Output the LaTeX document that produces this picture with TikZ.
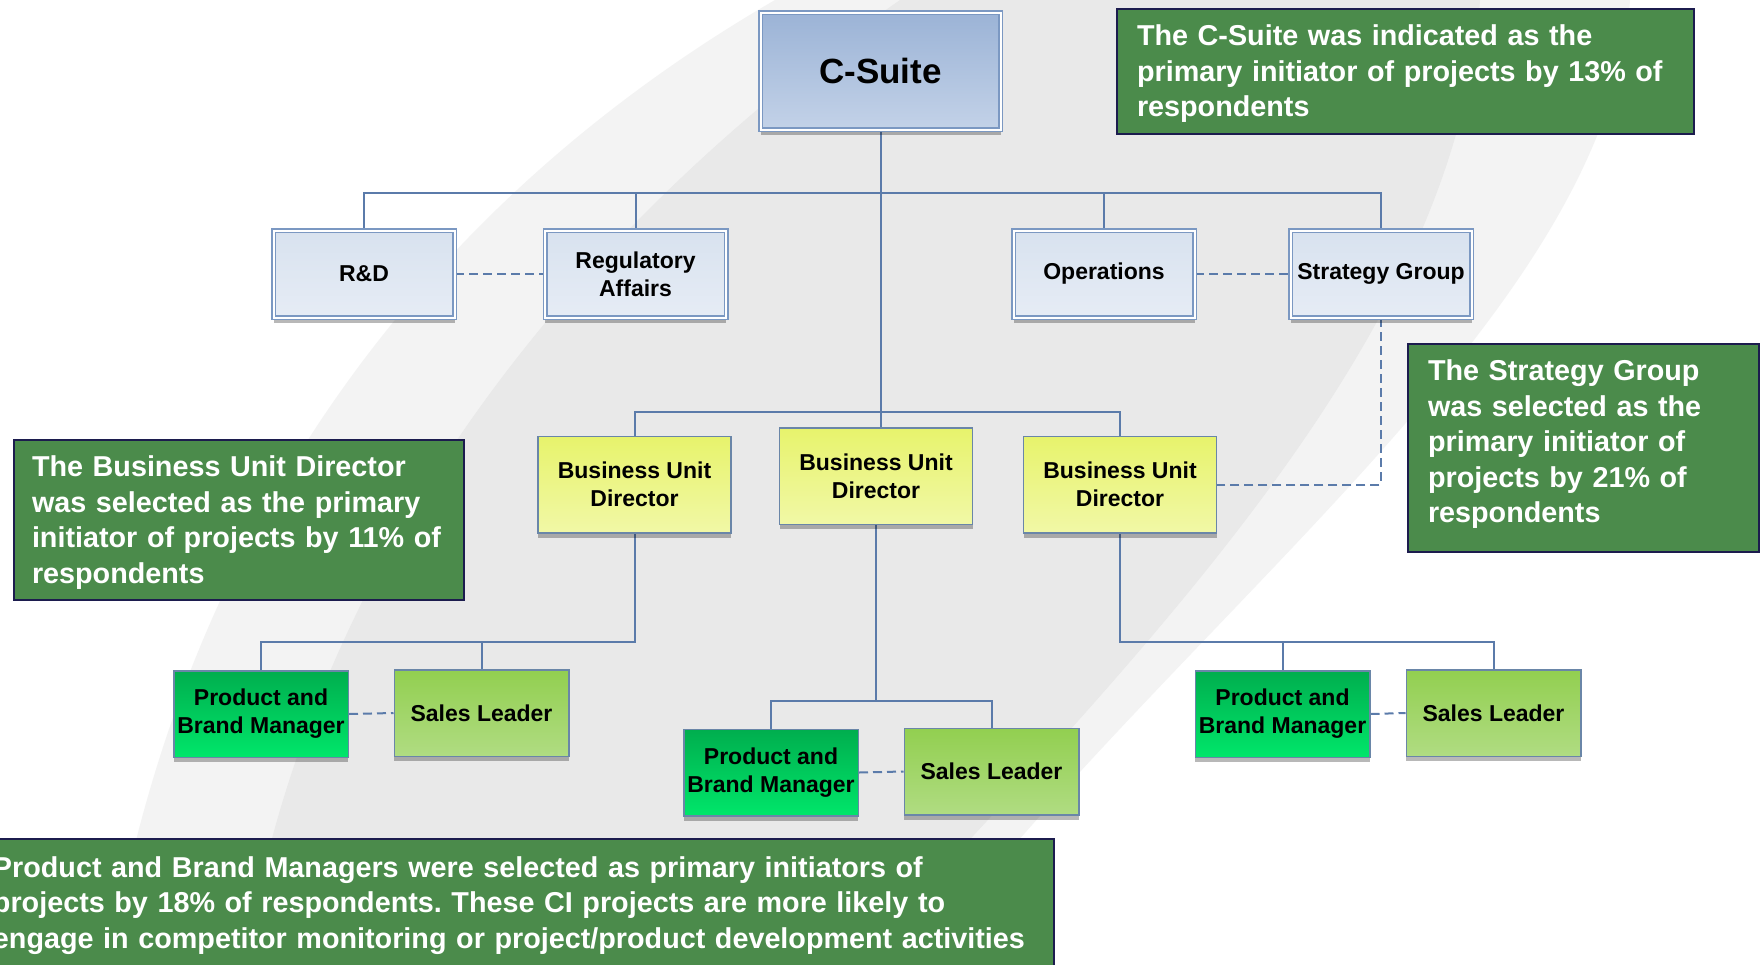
\documentclass[tikz,border=0pt]{standalone}
\usepackage{fontspec}
\setmainfont{Liberation Sans}
\usetikzlibrary{shadows}
\definecolor{lineblue}{HTML}{5B7BAA}
\definecolor{bbord}{HTML}{7B98C2}
\definecolor{bfillt}{HTML}{D8E2EF}
\definecolor{bfillb}{HTML}{E6ECF5}
\definecolor{cst}{HTML}{9BB3D6}
\definecolor{csb}{HTML}{C3D2E8}
\definecolor{ybord}{HTML}{6A86A8}
\definecolor{yt}{HTML}{E7F36C}
\definecolor{yb}{HTML}{F1F8A6}
\definecolor{gt}{HTML}{00AE4E}
\definecolor{gb}{HTML}{00E66A}
\definecolor{lt}{HTML}{92CF50}
\definecolor{lb}{HTML}{B0DC82}
\definecolor{notegreen}{HTML}{4B8B4B}
\definecolor{navy}{HTML}{1C1C4E}
\definecolor{swooshA}{HTML}{F3F3F3}
\definecolor{swooshB}{HTML}{E9E9E9}
\pgfdeclarelayer{bg}
\pgfdeclarelayer{conn}
\pgfsetlayers{bg,conn,main}
\frenchspacing
\begin{document}
\begin{tikzpicture}[x=1pt,y=-1pt,
  orgbase/.style={rectangle, inner sep=0pt, align=center, text=black,
    font=\fontsize{23}{28}\selectfont\bfseries,
    drop shadow={shadow xshift=0pt, shadow yshift=-5pt, fill=black, opacity=0.28}},
  bluebox/.style={orgbase, draw=bbord, double=white, double distance=2pt, line width=1.5pt,
    top color=bfillt, bottom color=bfillb, minimum width=181pt, minimum height=87pt},
  topbox/.style={orgbase, draw=bbord, double=white, double distance=2pt, line width=1.5pt,
    top color=cst, bottom color=csb, minimum width=240pt, minimum height=117pt,
    font=\fontsize{35}{42}\selectfont\bfseries},
  budbox/.style={orgbase, draw=ybord, line width=1.5pt, top color=yt, bottom color=yb,
    minimum width=193pt, minimum height=96.5pt},
  pbmbox/.style={orgbase, draw=ybord, line width=1.5pt, top color=gt, bottom color=gb,
    minimum width=174.5pt, minimum height=86.5pt},
  slbox/.style={orgbase, draw=ybord, line width=1.5pt, top color=lt, bottom color=lb,
    minimum width=174.5pt, minimum height=86.5pt},
  conn/.style={draw=lineblue, line width=2pt},
  dconn/.style={conn, dash pattern=on 9pt off 5pt},
  notebox/.style={rectangle, draw=navy, line width=2pt, fill=notegreen, text=white,
    font=\fontsize{28.75}{35.5}\selectfont\bfseries, align=left, inner ysep=0pt,
    inner xsep=20pt, anchor=north west}
]
\useasboundingbox (0,0) rectangle (1761,964);
\clip (0,0) rectangle (1761,964);

% background swoosh
\begin{pgfonlayer}{bg}
\fill[white] (0,0) rectangle (1761,964);
\fill[swooshA] (110,964) .. controls (185,520) and (430,200) .. (775,0) -- (1630,0)
  .. controls (1610,280) and (1280,540) .. (1010,850) -- (1010,964) -- cycle;
\fill[swooshB] (245,964) .. controls (310,560) and (570,230) .. (900,0) -- (1480,0)
  .. controls (1460,290) and (1230,560) .. (960,850) -- (960,964) -- cycle;
\end{pgfonlayer}

% org nodes
\node[topbox] (csuite) at (880.5,71) {C-Suite};
\node[bluebox] (rd) at (364,274) {R\&D};
\node[bluebox] (reg) at (635.5,274) {Regulatory\\Affairs};
\node[bluebox] (ops) at (1104,274) {Operations};
\node[bluebox] (sg) at (1381,274) {Strategy Group};

\node[budbox] (bud1) at (634.5,484.5) {Business Unit\\Director};
\node[budbox] (bud2) at (876,476) {Business Unit\\Director};
\node[budbox] (bud3) at (1120,484.5) {Business Unit\\Director};

\node[pbmbox] (pbm1) at (261,714) {Product and\\Brand Manager};
\node[slbox] (sl1) at (481.5,713) {Sales Leader};
\node[pbmbox] (pbm2) at (771,772.5) {Product and\\Brand Manager};
\node[slbox] (sl2) at (991.5,771.5) {Sales Leader};
\node[pbmbox] (pbm3) at (1282.5,714) {Product and\\Brand Manager};
\node[slbox] (sl3) at (1493.5,713) {Sales Leader};

% bus coordinates
\coordinate (tbus) at (0,193);
\coordinate (mbus) at (0,412);
\coordinate (lbus) at (0,642);
\coordinate (mlbus) at (0,701);

\begin{pgfonlayer}{conn}
\draw[conn] (csuite.south) -- (csuite.south |- bud2.north);
\draw[conn] (rd.north) -- (rd.north |- tbus) -- (sg.north |- tbus) -- (sg.north);
\draw[conn] (reg.north) -- (reg.north |- tbus);
\draw[conn] (ops.north) -- (ops.north |- tbus);
\draw[conn] (bud1.north) -- (bud1.north |- mbus) -- (bud3.north |- mbus) -- (bud3.north);
\draw[conn] (bud1.south) -- (bud1.south |- lbus) -- (pbm1.north |- lbus) -- (pbm1.north);
\draw[conn] (sl1.north) -- (sl1.north |- lbus);
\draw[conn] (bud2.south) -- (bud2.south |- mlbus);
\draw[conn] (pbm2.north) -- (pbm2.north |- mlbus) -- (sl2.north |- mlbus) -- (sl2.north);
\draw[conn] (bud3.south) -- (bud3.south |- lbus) -- (sl3.north |- lbus) -- (sl3.north);
\draw[conn] (pbm3.north) -- (pbm3.north |- lbus);
\draw[dconn] (rd.east) -- (reg.west);
\draw[dconn] (ops.east) -- (sg.west);
\draw[dconn] (sg.south) |- (bud3.east);
\draw[dconn] (pbm1.east) -- (sl1.west);
\draw[dconn] (pbm2.east) -- (sl2.west);
\draw[dconn] (pbm3.east) -- (sl3.west);
\end{pgfonlayer}

% notes
\node[notebox, minimum width=577pt, minimum height=125pt, text width=537pt] (note1) at (1116,8)
  {\mbox{The C-Suite was indicated as the}\\\mbox{primary initiator of projects by 13\% of}\\\mbox{respondents}\par\vspace{-5pt}};
\node[notebox, minimum width=351pt, minimum height=208pt, text width=311pt] (note2) at (1407,343)
  {\mbox{The Strategy Group}\\\mbox{was selected as the}\\\mbox{primary initiator of}\\\mbox{projects by 21\% of}\\\mbox{respondents}\par\vspace{7pt}};
\node[notebox, minimum width=450pt, minimum height=160pt, text width=414pt, inner xsep=18pt] (note3) at (13,439)
  {\mbox{The Business Unit Director}\\\mbox{was selected as the primary}\\\mbox{initiator of projects by 11\% of}\\\mbox{respondents}\par\vspace{-5pt}};
\node[notebox, minimum width=1093pt, minimum height=128pt, text width=1029pt, inner xsep=32pt] (note4) at (-40,838)
  {\mbox{Product and Brand Managers were selected as primary initiators of}\\\mbox{projects by 18\% of respondents. These CI projects are more likely to}\\\mbox{engage in competitor monitoring or project/product development activities}\par\vspace{-5pt}};
\end{tikzpicture}
\end{document}
